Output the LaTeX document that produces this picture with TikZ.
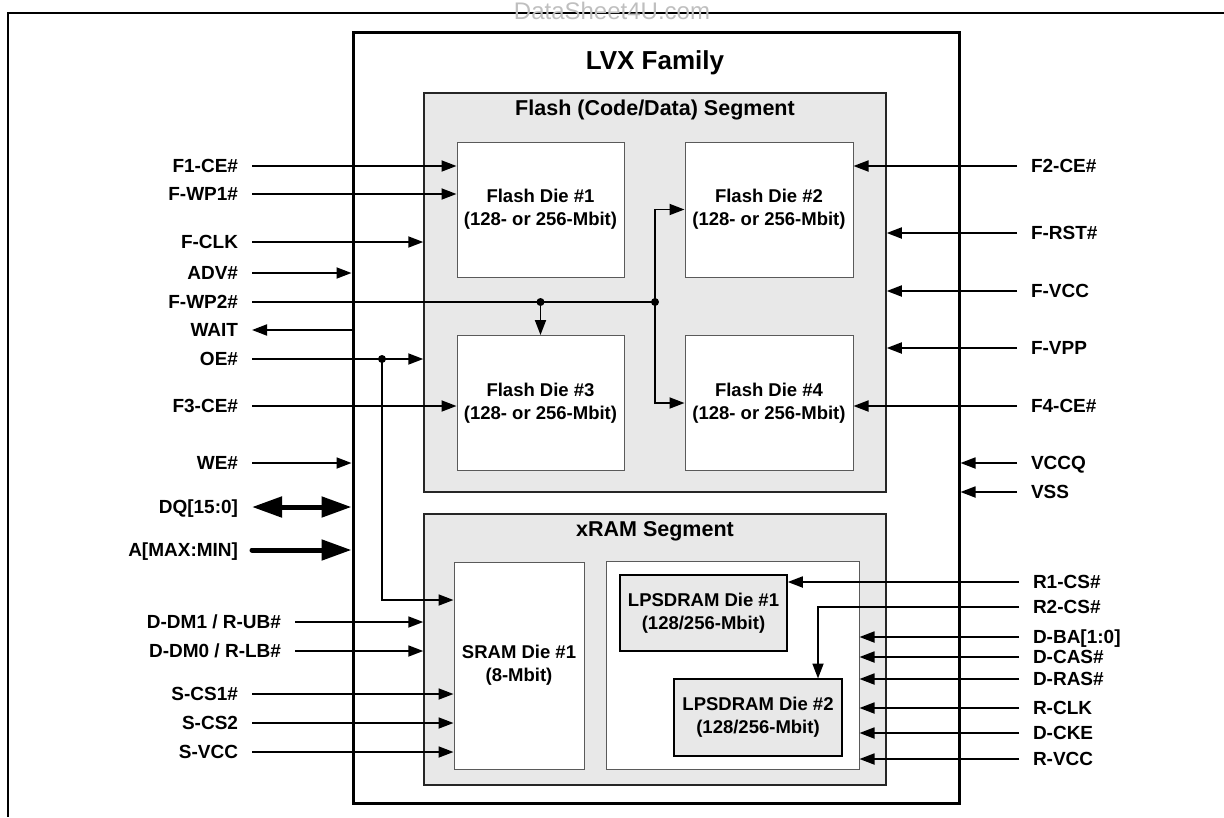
\documentclass[tikz,border=0pt]{standalone}
\usepackage{fontspec}
\setmainfont{Liberation Sans}
\usetikzlibrary{arrows.meta}

\begin{document}
\begin{tikzpicture}[x=1pt, y=-1pt,
    senal/.style={inner sep=0pt, outer xsep=14pt, text height=13.3pt, text depth=0pt, font=\fontsize{19}{23}\bfseries\selectfont},
    titulo/.style={inner sep=0pt, font=\fontsize{21.5}{24}\bfseries\selectfont},
    dado/.style={draw=bordeG, line width=1pt, fill=white, align=center, inner sep=0pt, font=\fontsize{18.5}{23}\bfseries\selectfont},
    lpdado/.style={draw=black, line width=1.5pt, fill=grisF, align=center, inner sep=0pt, font=\fontsize{18.5}{23}\bfseries\selectfont},
    segmento/.style={draw=black!85, line width=1.5pt, fill=grisF},
    flecha/.style={line width=1.8pt, -{Triangle[length=15pt,width=11pt]}},
    linea/.style={line width=1.8pt},
    bus/.style={line width=5pt}]

    % Definimos colores
    \definecolor{grisF}{RGB}{232,232,232}   % Relleno de segmentos
    \definecolor{bordeG}{RGB}{90,90,90}     % Borde de los dados

    \useasboundingbox (0,0) rectangle (1224,817);

    % Marco exterior y marca de agua
    \draw[line width=2pt] (1224,13) -- (8,13) -- (8,817);
    \node[inner sep=0pt, anchor=base, text=black!25, font=\fontsize{24}{24}\selectfont] (marca) at (612,19.5) {DataSheet4U.com};

    % Encapsulado LVX
    \node[draw, line width=3pt, minimum width=606pt, minimum height=771pt] (lvx) at (656,417.5) {};
    \node[inner sep=0pt, font=\fontsize{26}{28}\bfseries\selectfont] (tlvx) at (655,63) {LVX Family};

    % Segmento Flash
    \node[segmento, minimum width=462pt, minimum height=399pt] (flash) at (655,292.5) {};
    \node[titulo] (tflash) at (655,110) {Flash (Code/Data) Segment};
    \node[dado, minimum width=167pt, minimum height=135pt] (d1) at (540.5,209.5) {Flash Die \#1\\(128- or 256-Mbit)};
    \node[dado, minimum width=168pt, minimum height=135pt] (d2) at (769,209.5) {Flash Die \#2\\(128- or 256-Mbit)};
    \node[dado, minimum width=167pt, minimum height=135pt] (d3) at (540.5,403) {Flash Die \#3\\(128- or 256-Mbit)};
    \node[dado, minimum width=168pt, minimum height=135pt] (d4) at (769,403) {Flash Die \#4\\(128- or 256-Mbit)};

    % Segmento xRAM
    \node[segmento, minimum width=462pt, minimum height=271pt] (xram) at (655,649.5) {};
    \node[titulo] (txram) at (655,531) {xRAM Segment};
    \node[dado, minimum width=130pt, minimum height=207pt] (sram) at (519,665.5) {SRAM Die \#1\\(8-Mbit)};
    \node[draw=bordeG, line width=1pt, fill=white, minimum width=253pt, minimum height=208pt] (dram) at (732.5,665) {};
    \node[lpdado, minimum width=167pt, minimum height=76pt] (lp1) at (703.5,613) {LPSDRAM Die \#1\\(128/256-Mbit)};
    \node[lpdado, minimum width=168pt, minimum height=77pt] (lp2) at (758,717.5) {LPSDRAM Die \#2\\(128/256-Mbit)};

    % Senales izquierda
    \node[senal, anchor=east] (f1ce) at (252,166) {F1-CE\#};
    \node[senal, anchor=east] (fwp1) at (252,194) {F-WP1\#};
    \node[senal, anchor=east] (fclk) at (252,242) {F-CLK};
    \node[senal, anchor=east] (adv) at (252,273) {ADV\#};
    \node[senal, anchor=east] (fwp2) at (252,302) {F-WP2\#};
    \node[senal, anchor=east] (wait) at (252,330) {WAIT};
    \node[senal, anchor=east] (oe) at (252,359) {OE\#};
    \node[senal, anchor=east] (f3ce) at (252,406) {F3-CE\#};
    \node[senal, anchor=east] (we) at (252,463) {WE\#};
    \node[senal, anchor=east] (dq) at (252,507) {DQ[15:0]};
    \node[senal, anchor=east] (amax) at (252,550) {A[MAX:MIN]};
    \node[senal, anchor=east] (ddm1) at (295,622) {D-DM1 / R-UB\#};
    \node[senal, anchor=east] (ddm0) at (295,651) {D-DM0 / R-LB\#};
    \node[senal, anchor=east] (scs1) at (252,694) {S-CS1\#};
    \node[senal, anchor=east] (scs2) at (252,723) {S-CS2};
    \node[senal, anchor=east] (svcc) at (252,752) {S-VCC};

    % Senales derecha
    \node[senal, anchor=west] (f2ce) at (1017,166) {F2-CE\#};
    \node[senal, anchor=west] (frst) at (1017,233) {F-RST\#};
    \node[senal, anchor=west] (fvcc) at (1017,291) {F-VCC};
    \node[senal, anchor=west] (fvpp) at (1017,348) {F-VPP};
    \node[senal, anchor=west] (f4ce) at (1017,406) {F4-CE\#};
    \node[senal, anchor=west] (vccq) at (1017,463) {VCCQ};
    \node[senal, anchor=west] (vss) at (1017,492) {VSS};
    \node[senal, anchor=west] (r1cs) at (1019,582) {R1-CS\#};
    \node[senal, anchor=west] (r2cs) at (1019,607) {R2-CS\#};
    \node[senal, anchor=west] (dba) at (1019,637) {D-BA[1:0]};
    \node[senal, anchor=west] (dcas) at (1019,657) {D-CAS\#};
    \node[senal, anchor=west] (dras) at (1019,679) {D-RAS\#};
    \node[senal, anchor=west] (rclk) at (1019,708) {R-CLK};
    \node[senal, anchor=west] (dcke) at (1019,733) {D-CKE};
    \node[senal, anchor=west] (rvcc) at (1019,759) {R-VCC};

    % Puntos de union
    \coordinate (j1) at (540.5,302);
    \coordinate (j2) at (655,302);
    \coordinate (joe) at (382,359);
    \coordinate (soe) at (453.5,600);
    \coordinate (r2k) at (818,678.5);

    % Conexiones izquierda
    \draw[flecha] (f1ce) -- (f1ce -| d1.west);
    \draw[flecha] (fwp1) -- (fwp1 -| d1.west);
    \draw[flecha] (fclk) -- (fclk -| flash.west);
    \draw[flecha] (adv) -- (adv -| lvx.west);
    \draw[linea] (fwp2) -- (j2);
    \draw[flecha] (j1) -- (d3.north);
    \draw[flecha] (j2) |- (d2.west);
    \draw[flecha] (j2) |- (d4.west);
    \draw[flecha] (wait -| lvx.west) -- (wait);
    \draw[flecha] (oe) -- (oe -| flash.west);
    \draw[flecha] (joe) |- (soe);
    \draw[flecha] (f3ce) -- (f3ce -| d3.west);
    \draw[flecha] (we) -- (we -| lvx.west);
    \draw[bus, {Triangle[length=30pt,width=20pt]}-{Triangle[length=30pt,width=20pt]}] (dq) -- (dq -| lvx.west);
    \draw[bus, line cap=round, -{Triangle[length=30pt,width=20pt]}] (amax) -- (amax -| lvx.west);
    \draw[flecha] (ddm1) -- (ddm1 -| xram.west);
    \draw[flecha] (ddm0) -- (ddm0 -| xram.west);
    \draw[flecha] (scs1) -- (scs1 -| sram.west);
    \draw[flecha] (scs2) -- (scs2 -| sram.west);
    \draw[flecha] (svcc) -- (svcc -| sram.west);
    \fill (j1) circle (4pt);
    \fill (j2) circle (4pt);
    \fill (joe) circle (4pt);

    % Conexiones derecha
    \draw[flecha] (f2ce) -- (f2ce -| d2.east);
    \draw[flecha] (frst) -- (frst -| flash.east);
    \draw[flecha] (fvcc) -- (fvcc -| flash.east);
    \draw[flecha] (fvpp) -- (fvpp -| flash.east);
    \draw[flecha] (f4ce) -- (f4ce -| d4.east);
    \draw[flecha] (vccq) -- (vccq -| lvx.east);
    \draw[flecha] (vss) -- (vss -| lvx.east);
    \draw[flecha] (r1cs) -- (r1cs -| lp1.east);
    \draw[flecha] (r2cs) -| (r2k);
    \draw[flecha] (dba) -- (dba -| dram.east);
    \draw[flecha] (dcas) -- (dcas -| dram.east);
    \draw[flecha] (dras) -- (dras -| dram.east);
    \draw[flecha] (rclk) -- (rclk -| dram.east);
    \draw[flecha] (dcke) -- (dcke -| dram.east);
    \draw[flecha] (rvcc) -- (rvcc -| dram.east);

\end{tikzpicture}
\end{document}
